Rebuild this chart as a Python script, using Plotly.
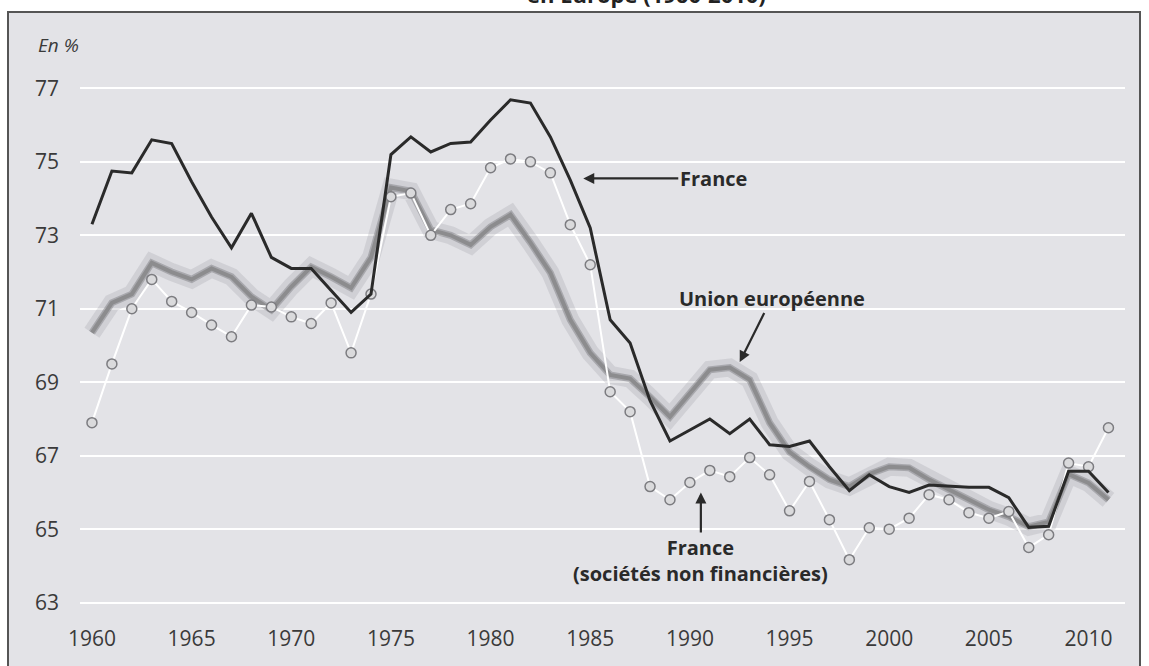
import plotly.graph_objects as go

W, H = 1149, 666
BG = "#e3e3e7"
DARK = "#2a2a2a"
GREY = "#8c8c8e"
FONT = "Open Sans, Noto Sans, sans-serif"

years = list(range(1960, 2012))

france = [73.3, 74.75, 74.7, 75.6, 75.5, 74.46, 73.5, 72.66, 73.6, 72.4,
          72.1, 72.1, 71.5, 70.9, 71.4, 75.2, 75.68, 75.27, 75.5, 75.54,
          76.14, 76.69, 76.6, 75.68, 74.5, 73.2, 70.7, 70.07, 68.5, 67.4,
          67.7, 68.0, 67.6, 68.0, 67.3, 67.25, 67.4, 66.7, 66.05, 66.48,
          66.16, 66.0, 66.2, 66.16, 66.14, 66.14, 65.86, 65.05, 65.08, 66.58,
          66.58, 66.0]

snf = [67.9, 69.5, 71.0, 71.8, 71.2, 70.9, 70.56, 70.24, 71.1, 71.05,
       70.78, 70.6, 71.16, 69.8, 71.4, 74.05, 74.15, 73.0, 73.7, 73.86,
       74.84, 75.08, 75.0, 74.7, 73.29, 72.2, 68.74, 68.2, 66.16, 65.8,
       66.27, 66.6, 66.43, 66.95, 66.48, 65.5, 66.3, 65.26, 64.17, 65.04,
       65.0, 65.3, 65.94, 65.8, 65.45, 65.3, 65.48, 64.5, 64.85, 66.8,
       66.7, 67.76]

ue = [70.35, 71.16, 71.4, 72.25, 72.0, 71.8, 72.1, 71.87, 71.33, 70.97,
      71.6, 72.14, 71.87, 71.57, 72.4, 74.3, 74.2, 73.15, 73.0, 72.74,
      73.23, 73.56, 72.8, 71.98, 70.7, 69.8, 69.2, 69.1, 68.6, 68.06,
      68.7, 69.34, 69.4, 69.07, 67.9, 67.1, 66.7, 66.35, 66.16, 66.5,
      66.7, 66.67, 66.35, 66.07, 65.8, 65.53, 65.34, 65.07, 65.2, 66.5,
      66.26, 65.8]

y_ticks = [63, 65, 67, 69, 71, 73, 75, 77]
x_ticks = [1960, 1965, 1970, 1975, 1980, 1985, 1990, 1995, 2000, 2005, 2010]

# plot area in pixels
L, R, T, B = 80, 24, 59, 56
PW, PH = W - L - R, H - T - B


def px(x):
    return (x - L) / PW


def py(y):
    return (H - B - y) / PH


fig = go.Figure()

# soft shadow under the EU line
fig.add_trace(go.Scatter(
    x=years, y=ue, mode="lines",
    line=dict(color="rgba(140,140,148,0.22)", width=18),
    hoverinfo="skip", showlegend=False,
))
fig.add_trace(go.Scatter(
    x=years, y=ue, mode="lines",
    line=dict(color="rgba(120,120,125,0.45)", width=7),
    hoverinfo="skip", showlegend=False,
))
fig.add_trace(go.Scatter(
    x=years, y=ue, mode="lines", name="Union européenne",
    line=dict(color=GREY, width=4),
    showlegend=False,
))
fig.add_trace(go.Scatter(
    x=years, y=snf, mode="lines+markers", name="France (sociétés non financières)",
    line=dict(color="#ffffff", width=2),
    marker=dict(size=10, color="#dadadc", line=dict(color="#7c7c80", width=1.5)),
    showlegend=False,
))
fig.add_trace(go.Scatter(
    x=years, y=france, mode="lines", name="France",
    line=dict(color=DARK, width=3),
    showlegend=False,
))

ann_font = dict(family=FONT, size=20, color=DARK)
annotations = [
    dict(x=1984.65, y=74.55, text="<b>France</b>", showarrow=True,
         ax=130, ay=0, arrowhead=2, arrowsize=1, arrowwidth=2.2,
         arrowcolor=DARK, font=ann_font, standoff=0),
    dict(x=1992.5, y=69.55, text="<b>Union européenne</b>", showarrow=True,
         ax=32, ay=-64, arrowhead=2, arrowsize=1, arrowwidth=2.2,
         arrowcolor=DARK, font=ann_font, standoff=0),
    dict(x=1990.55, y=66.0, text="<b>France<br>(sociétés non financières)</b>",
         showarrow=True, ax=0, ay=68, arrowhead=2, arrowsize=1, arrowwidth=2.2,
         arrowcolor=DARK, font=ann_font, standoff=0),
    dict(xref="paper", yref="paper", x=px(36), y=py(45), text="<i>En %</i>",
         showarrow=False, xanchor="left", yanchor="middle",
         font=dict(family=FONT, size=19, color="#3a3a3a")),
    dict(xref="paper", yref="paper", x=px(768), y=py(11),
         text="<b>en Europe (1960-2010)</b>", showarrow=False,
         xanchor="right", yanchor="bottom",
         font=dict(family=FONT, size=22, color="#222222")),
]

fig.update_layout(
    width=W, height=H,
    paper_bgcolor="#ffffff",
    plot_bgcolor=BG,
    margin=dict(l=L, r=R, t=T, b=B),
    font=dict(family=FONT, color="#3a3a3a", size=21),
    annotations=annotations,
    shapes=[dict(
        type="rect", xref="paper", yref="paper", layer="below",
        x0=px(8), x1=px(1140), y0=py(H + 20), y1=py(12),
        fillcolor=BG, line=dict(color="#555555", width=2),
    )],
    xaxis=dict(
        range=[1959.4, 2011.83], tickvals=x_ticks,
        showgrid=False, zeroline=False, showline=False,
        ticks="", ticklabelstandoff=14,
        tickfont=dict(size=21),
    ),
    yaxis=dict(
        range=[62.8, 77.8], tickvals=y_ticks,
        showgrid=True, gridcolor="#ffffff", gridwidth=2,
        zeroline=False, showline=False,
        ticks="", ticklabelstandoff=20,
        tickfont=dict(size=21),
    ),
)

fig.write_html("out.html", config={"displayModeBar": False},
               post_script="document.body.style.margin='0px';")
